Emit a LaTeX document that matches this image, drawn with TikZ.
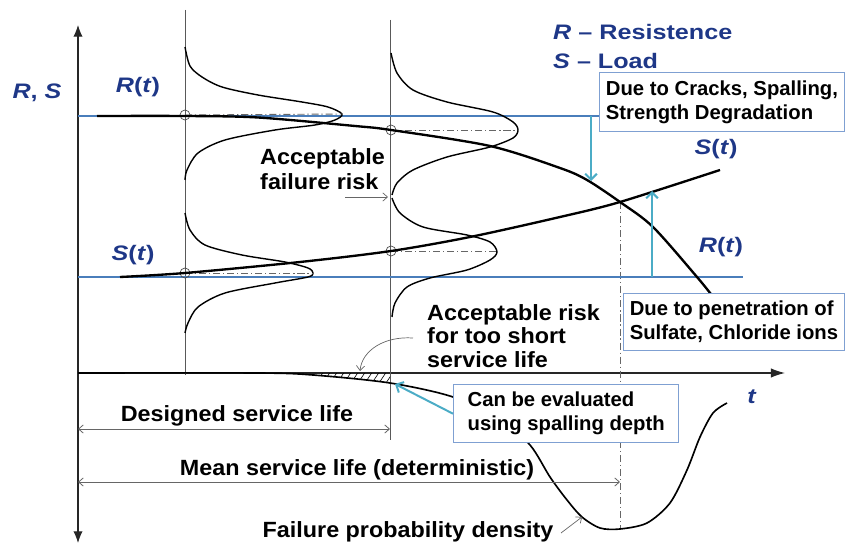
\documentclass[tikz,border=0pt]{standalone}
\usepackage{fontspec}
\setmainfont{Liberation Sans}
\newfontfamily\bluefont[FakeStretch=1.2]{Liberation Sans}
\newfontfamily\labfont[FakeStretch=1.06]{Liberation Sans}
\usetikzlibrary{arrows.meta}
\definecolor{navy}{RGB}{30,55,135}
\definecolor{lineblue}{RGB}{74,126,187}
\definecolor{boxblue}{RGB}{127,160,210}
\definecolor{cyanc}{RGB}{75,172,198}
\tikzset{
 ax/.style={line width=1pt, black!85},
 vline/.style={line width=0.8pt, black!65},
 pdfc/.style={line width=1.2pt, black},
 thickcurve/.style={line width=2pt, black},
 densc/.style={line width=1.4pt, black},
 blueline/.style={line width=1.7pt, lineblue},
 dd/.style={line width=0.8pt, black!60, dash pattern=on 6pt off 2.5pt on 1pt off 2.5pt},
 ring/.style={circle, draw=black!70, line width=0.6pt, minimum size=0.3cm, inner sep=0pt},
 cyanarr/.style={line width=1.7pt, cyanc, -{Straight Barb[length=5pt,width=10pt]}},
 thinarr/.style={line width=0.6pt, black!60, -{Straight Barb[length=4pt,width=7pt]}},
 dimarr/.style={line width=0.7pt, black!60, {Straight Barb[length=4pt,width=7pt]}-{Straight Barb[length=4pt,width=7pt]}},
 infobox/.style={draw=boxblue, line width=1.2pt, fill=white, font=\bfseries\fontsize{17.3}{20.5}\selectfont, align=left, anchor=north west, inner sep=0pt},
 bluelbl/.style={text=navy, font=\bluefont\bfseries\fontsize{17.9}{21}\selectfont, inner sep=0pt},
 blklbl/.style={font=\labfont\bfseries\fontsize{18.8}{21.3}\selectfont, inner sep=0pt, align=left},
}
\begin{document}
\begin{tikzpicture}[x=0.03cm,y=-0.03cm]
\useasboundingbox (0,0) rectangle (845,543);

% axes
\coordinate (ytop) at (78,25);
\coordinate (ybot) at (78,543);
\coordinate (orig) at (78,373);
\coordinate (tend) at (785,373);
\draw[ax, {Latex[length=10pt,width=8pt]}-{Latex[length=10pt,width=8pt]}] (ybot) -- (ytop);
\draw[ax, -{Latex[length=12pt,width=8pt]}] (orig) -- (tend);

% time verticals
\coordinate (v1t) at (185,10);  \coordinate (v1b) at (185,375);
\coordinate (v2t) at (390,20);  \coordinate (v2b) at (390,440);
\draw[vline] (v1t) -- (v1b);
\draw[vline] (v2t) -- (v2b);
\coordinate (mt) at (620,202); \coordinate (mb) at (620,529);
\draw[dd] (mt) -- (mb);

% blue reference lines
\coordinate (rl1) at (78,116); \coordinate (rl2) at (599,116);
\coordinate (sl1) at (78,277); \coordinate (sl2) at (743,277);
\draw[blueline] (rl1) -- (rl2);
\draw[blueline] (sl1) -- (sl2);

% probability density curves (sideways)
\draw[pdfc] plot[smooth] coordinates {(185,47) (190,66) (202,77) (222,87) (258,95) (302,102) (328,107) (342,114) (335,120) (315,125) (275,130) (225,140) (198,153) (187,170) (185,180)};
\draw[pdfc] plot[smooth] coordinates {(185,213) (190,230) (205,245) (242,255) (285,262) (308,268) (313,273) (308,277) (275,283) (225,293) (198,307) (188,323) (185,333)};
\draw[pdfc] plot[smooth] coordinates {(391,53) (397,73) (413,90) (447,102) (493,112) (513,122) (518,130) (513,138) (490,147) (447,157) (413,170) (397,183) (392,195)};
\draw[pdfc] plot[smooth] coordinates {(392,198) (400,213) (423,227) (467,235) (490,242) (497,252) (490,260) (467,270) (430,278) (407,287) (395,303) (392,317)};

% mean markers and dash-dot
\node[ring] (c1) at (185,115) {};
\node[ring] (c2) at (185,273) {};
\node[ring] (c3) at (391,130) {};
\node[ring] (c4) at (391,251) {};
\coordinate (p1) at (342,114);
\coordinate (p2) at (313,273);
\coordinate (p3) at (518,130);
\coordinate (p4) at (497,251);
\draw[dd] (c1.center) -- (p1);
\draw[dd] (c2.center) -- (p2);
\draw[dd] (c3.center) -- (p3);
\draw[dd] (c4.center) -- (p4);

% R(t) and S(t)
\draw[thickcurve] plot[smooth] coordinates {(97,116) (185,116) (258,117.5) (355,126) (391,130) (490,146) (560,168) (587,180) (620,202) (653,227) (697,277) (714,298)};
\draw[thickcurve] plot[smooth] coordinates {(120,277) (185,273) (300,262) (391,251) (470,237) (560,217) (620,202) (720,170)};

% failure probability density
\draw[densc] plot[smooth] coordinates {(78,373) (258,373) (313,375) (390,383) (453,397) (500,420) (530,445) (550,477) (567,500) (582,517) (600,528) (620,529) (647,523) (670,503) (687,470) (700,437) (713,413) (727,403)};
\begin{scope}
\clip (317,373) -- (390,373) -- (390,383) -- (353,378.5) -- (313,375) -- cycle;
\foreach \h in {300,307,...,400} \draw[line width=0.5pt] (\h,386) -- (\h+12,368);
\end{scope}

% dimension arrows
\coordinate (d1a) at (78,429); \coordinate (d1b) at (390,429);
\coordinate (d2a) at (78,482); \coordinate (d2b) at (620,482);
\draw[dimarr] (d1a) -- (d1b);
\draw[dimarr] (d2a) -- (d2b);

% info boxes
\node[infobox, minimum width=7.335cm, minimum height=1.77cm] (b1) at (599,72) {Due to Cracks, Spalling,\\Strength Degradation};
\node[infobox, minimum width=6.615cm, minimum height=1.71cm] (b2) at (623,293) {Due to penetration of\\Sulfate, Chloride ions};
\node[infobox, minimum width=6.75cm, minimum height=1.74cm] (b3) at (453,384) {Can be evaluated\\using spalling depth};

% cyan arrows
\coordinate (a1s) at (591,116); \coordinate (a1e) at (591,181);
\coordinate (a2s) at (652,277); \coordinate (a2e) at (652,191);
\coordinate (a3e) at (395,384);
\draw[cyanarr] (a1s) -- (a1e);
\draw[cyanarr] (a2s) -- (a2e);
\draw[cyanarr] (b3.west) -- (a3e);

% blue labels
\node[bluelbl, anchor=base] (lrs) at (37,99) {\textit{R}, \textit{S}};
\node[bluelbl, anchor=base] (lr1) at (138,93) {\textit{R}(\textit{t})};
\node[bluelbl, anchor=base] (ls1) at (133,261) {\textit{S}(\textit{t})};
\node[bluelbl, anchor=base] (ls2) at (716,155) {\textit{S}(\textit{t})};
\node[bluelbl, anchor=base] (lr2) at (721,253) {\textit{R}(\textit{t})};
\node[bluelbl, anchor=base] (lt) at (752,403) {\textit{t}};
\node[bluelbl, anchor=base west] (leg1) at (553,40) {\textit{R} – Resistence};
\node[bluelbl, anchor=base west] (leg2) at (553,69) {\textit{S} – Load};

% black labels
\node[blklbl, anchor=north west] (afr) at (260,148) {Acceptable\\failure risk};
\node[blklbl, anchor=north west, font=\labfont\bfseries\fontsize{18.8}{20}\selectfont] (ars) at (427,304) {Acceptable risk\\for too short\\service life};
\node[blklbl, anchor=base] (dsl) at (237,421) {Designed service life};
\node[blklbl, anchor=base] (msl) at (357,475) {Mean service life (deterministic)};
\node[blklbl, anchor=base] (fpd) at (408,537) {Failure probability density};

% thin pointer arrows
\coordinate (f1s) at (345,197); \coordinate (f1e) at (388,197);
\draw[thinarr] (f1s) -- (f1e);
\coordinate (f2s) at (413,338); \coordinate (f2e) at (360,371);
\draw[thinarr] (f2s) .. controls (385,336) and (362,350) .. (f2e);
\coordinate (f3s) at (561,533); \coordinate (f3e) at (582,517);
\draw[thinarr] (f3s) -- (f3e);
\end{tikzpicture}
\end{document}
